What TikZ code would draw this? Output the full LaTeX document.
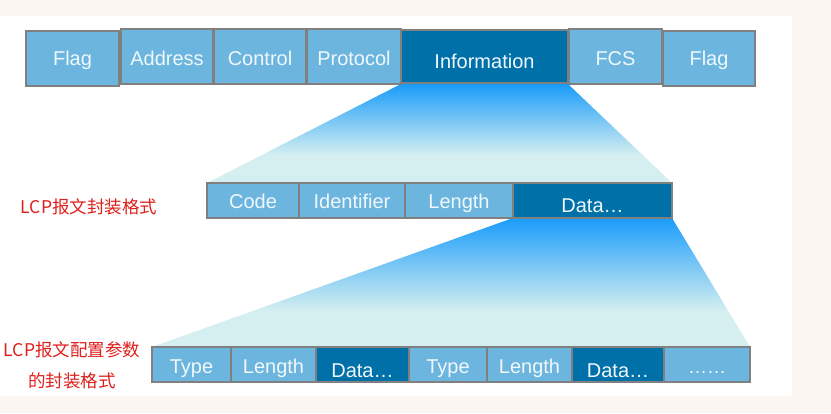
\documentclass[tikz,border=0pt]{standalone}
\usepackage{fontspec}
\setmainfont{Liberation Sans}
\newfontfamily\cjk{Noto Sans CJK SC}
\definecolor{bgc}{RGB}{252,246,242}
\definecolor{lightb}{RGB}{108,181,222}
\definecolor{darkb}{RGB}{0,112,168}
\definecolor{edgeg}{RGB}{128,128,128}
\definecolor{txtw}{RGB}{240,248,252}
\definecolor{fblue}{RGB}{26,156,250}
\definecolor{fpale}{RGB}{213,239,240}
\definecolor{lred}{RGB}{222,32,28}
\pgfdeclareverticalshading{funnelshade}{100bp}{color(0bp)=(fpale); color(25bp)=(fpale); color(39bp)=(fpale); color(75bp)=(fblue); color(100bp)=(fblue)}
\tikzset{
  fbox/.style={draw=edgeg, line width=1.8pt, text=txtw, inner sep=0pt,
    font=\fontsize{20}{24}\selectfont},
  lbox/.style={fbox, fill=lightb},
  dbox/.style={fbox, fill=darkb},
  bl/.style={text height=#1, text depth=0pt},
  redlabel/.style={text=lred, inner sep=0pt, font=\cjk\fontsize{17.5}{21}\selectfont},
  funnel/.style={shading=funnelshade}
}
\begin{document}
\begin{tikzpicture}[x=1pt,y=-1pt]
\useasboundingbox (0,0) rectangle (831,413);
\fill[bgc] (0,0) rectangle (831,413);
\fill[white] (0,16) rectangle (792,396);
% funnels
\coordinate (f1a) at (401,84);
\coordinate (f1b) at (568,84);
\coordinate (f1c) at (672,183);
\coordinate (f1d) at (207,183);
\shade[funnel] (f1a) -- (f1b) -- (f1c) -- (f1d) -- cycle;
\coordinate (f2a) at (513,218);
\coordinate (f2b) at (672,218);
\coordinate (f2c) at (750,347);
\coordinate (f2d) at (152,347);
\shade[funnel] (f2a) -- (f2b) -- (f2c) -- (f2d) -- cycle;
% top row
\node[lbox, bl=14.4pt, minimum width=93pt, minimum height=55pt] (flagA) at (72.5,58.5) {Flag};
\node[lbox, bl=17pt, minimum width=92pt, minimum height=55pt] (addr) at (167,56.5) {Address};
\node[lbox, bl=17pt, minimum width=92pt, minimum height=55pt] (ctrl) at (260,56.5) {Control};
\node[lbox, bl=17pt, minimum width=94pt, minimum height=55pt] (prot) at (354,56.5) {Protocol};
\node[dbox, bl=23.6pt, minimum width=167pt, minimum height=53pt] (info) at (484.5,56.5) {Information};
\node[lbox, bl=17pt, minimum width=93pt, minimum height=55pt] (fcs) at (615.5,56.5) {FCS};
\node[lbox, bl=14.4pt, minimum width=92pt, minimum height=55pt] (flagB) at (709,58.5) {Flag};
% middle row
\node[redlabel] (lab1) at (89,207) {LCP报文封装格式};
\node[lbox, bl=15pt, minimum width=92pt, minimum height=35pt] (code) at (253,200.5) {Code};
\node[lbox, bl=15pt, minimum width=106pt, minimum height=35pt] (ident) at (352,200.5) {Identifier};
\node[lbox, bl=15pt, minimum width=108pt, minimum height=35pt] (len) at (459,200.5) {Length};
\node[dbox, bl=23pt, minimum width=159pt, minimum height=35pt] (data) at (592.5,200.5) {Data…};
% bottom row
\node[redlabel] (lab2) at (72,350) {LCP报文配置参数};
\node[redlabel] (lab3) at (72,381) {的封装格式};
\node[lbox, bl=17pt, minimum width=79pt, minimum height=35pt] (type1) at (191.5,364.5) {Type};
\node[lbox, bl=17pt, minimum width=85pt, minimum height=35pt] (len1) at (273.5,364.5) {Length};
\node[dbox, bl=25pt, minimum width=93pt, minimum height=35pt] (data1) at (362.5,364.5) {Data…};
\node[lbox, bl=17pt, minimum width=78pt, minimum height=35pt] (type2) at (448,364.5) {Type};
\node[lbox, bl=17pt, minimum width=85pt, minimum height=35pt] (len2) at (529.5,364.5) {Length};
\node[dbox, bl=25pt, minimum width=92pt, minimum height=35pt] (data2) at (618,364.5) {Data…};
\node[lbox, bl=17pt, minimum width=86pt, minimum height=35pt] (dots) at (707,364.5) {\fontsize{19}{22}\selectfont ……};
\end{tikzpicture}
\end{document}
